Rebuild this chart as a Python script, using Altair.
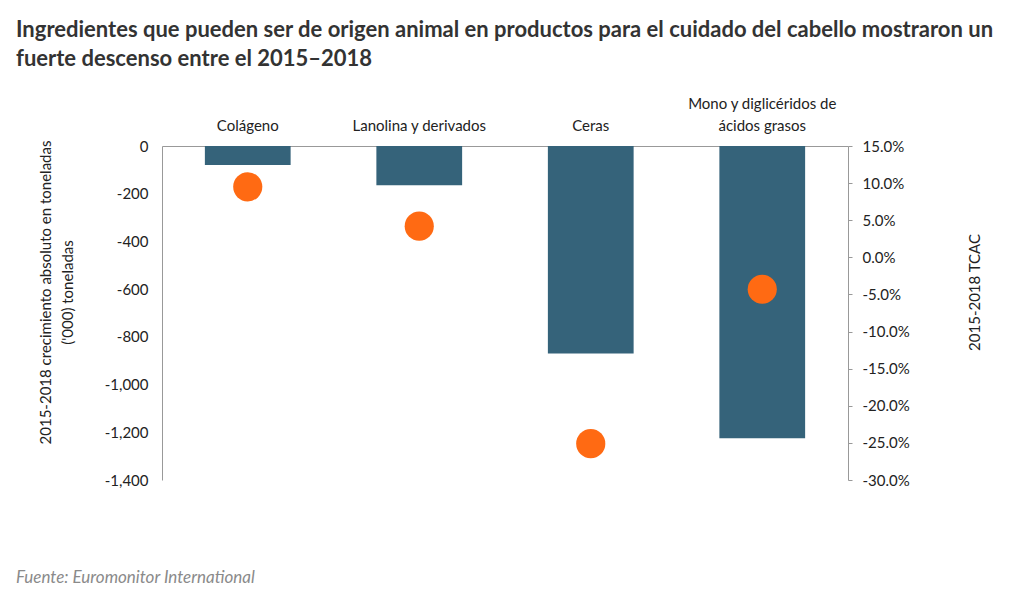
import altair as alt
import pandas as pd

categories = ["Colágeno", "Lanolina y derivados", "Ceras", "Mono y diglicéridos de ácidos grasos"]
abs_growth = [-80, -165, -870, -1225]
cagr = [9.5, 4.2, -25.1, -4.3]
left_ticks = [0, -200, -400, -600, -800, -1000, -1200, -1400]
right_ticks = [15, 10, 5, 0, -5, -10, -15, -20, -25, -30]

title_lines = [
    "Ingredientes que pueden ser de origen animal en productos para el cuidado del cabello mostraron un",
    "fuerte descenso entre el 2015\u20132018",
]
footer = "Fuente: Euromonitor International"

df = pd.DataFrame({"cat": categories, "abs": abs_growth, "cagr": cagr})

FONT = "Lato"
W, H = 686, 334

x_enc = alt.X(
    "cat:N",
    sort=categories,
    scale=alt.Scale(paddingInner=0.5, paddingOuter=0.25),
    axis=alt.Axis(
        orient="top", title=None, labelAngle=0, ticks=False, domainColor="#999999",
        labelFontSize=15, labelFont=FONT, labelColor="#222222", labelPadding=35,
        labelLineHeight=22,
        labelExpr="datum.label == 'Mono y diglicéridos de ácidos grasos' ? ['Mono y diglicéridos de', 'ácidos grasos'] : ['', datum.label]",
    ),
)

bars = alt.Chart(df).mark_bar(color="#35637a").encode(
    x=x_enc,
    y=alt.Y(
        "abs:Q",
        scale=alt.Scale(domain=[-1400, 0], nice=False),
        axis=alt.Axis(
            values=left_ticks, grid=False, ticks=False, domainColor="#999999",
            labelFontSize=15, labelFont=FONT, labelColor="#222222", labelPadding=14,
            labelExpr="replace(format(datum.value, ','), '\u2212', '-')",
            title=["2015-2018 crecimiento absoluto en toneladas", "('000) toneladas"],
            titleFont=FONT, titleFontSize=15, titleFontWeight="normal", titleColor="#222222",
            titleLineHeight=22, titleY=146, titlePadding=29,
        ),
    ),
)

points = alt.Chart(df).mark_circle(color="#ff6a13", opacity=1, size=850).encode(
    x=alt.X("cat:N", sort=categories),
    y=alt.Y(
        "cagr:Q",
        scale=alt.Scale(domain=[-30, 15], nice=False),
        axis=alt.Axis(
            orient="right", values=right_ticks, grid=False, tickSize=4, tickColor="#999999",
            domainColor="#999999", labelFontSize=15, labelFont=FONT, labelColor="#222222",
            labelPadding=10,
            labelExpr="replace(format(datum.value, '.1f'), '\u2212', '-') + '%'",
            title="2015-2018 TCAC", titleAngle=-90, titleFont=FONT, titleFontSize=15,
            titleFontWeight="normal", titleColor="#222222", titleY=146, titlePadding=73,
        ),
    ),
)

foot = alt.Chart(pd.DataFrame({"t": [footer]})).mark_text(
    align="left", baseline="middle", font=FONT, fontSize=17, fontStyle="italic", color="#8a8a8a"
).encode(text="t:N", x=alt.value(-146), y=alt.value(432))

chart = alt.layer(bars, points, foot).resolve_scale(y="independent").properties(
    width=W, height=H,
    title=alt.TitleParams(
        text=title_lines, anchor="start", frame="group", dx=-146, fontSize=22, font=FONT,
        fontWeight="bold", color="#333333", lineHeight=29, offset=25,
    ),
    padding={"left": 154, "top": 138, "right": 168, "bottom": 110},
    autosize=alt.AutoSizeParams(type="none"),
).configure_view(stroke=None)

chart.save("out.html", embed_options={"renderer": "svg", "actions": False})
